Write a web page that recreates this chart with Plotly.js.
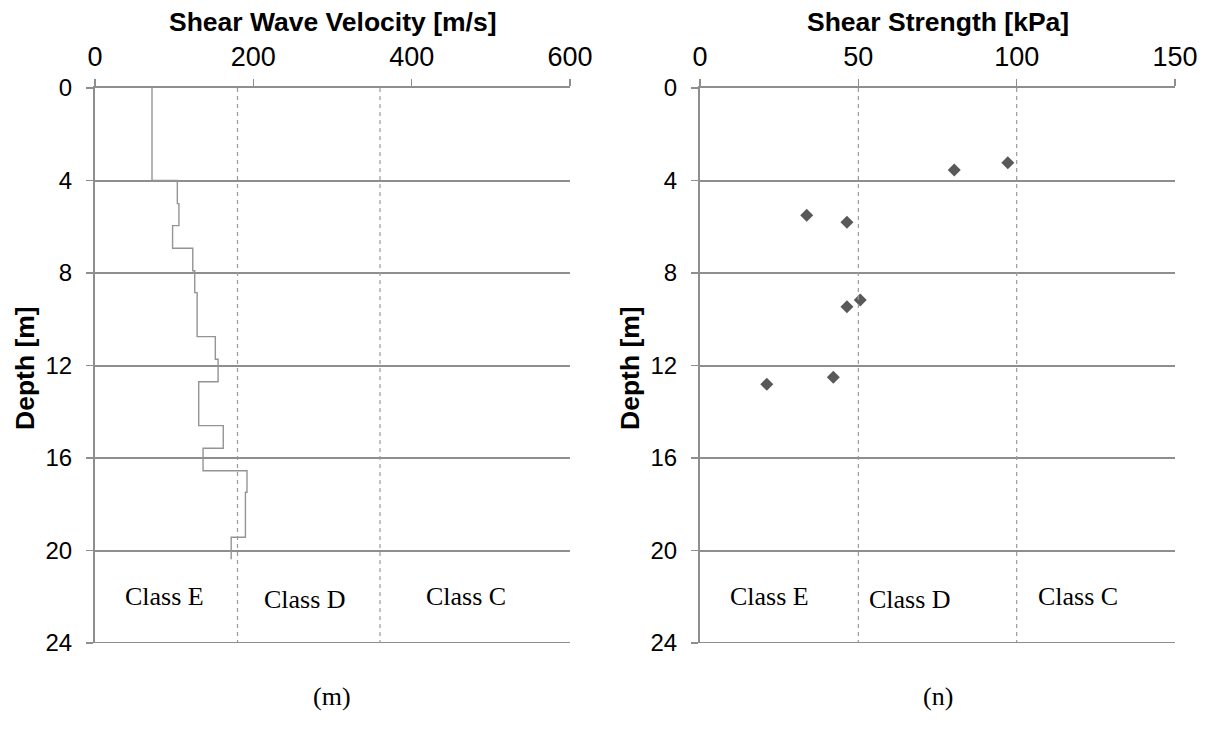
<!DOCTYPE html>
<html>
<head>
<meta charset="utf-8">
<script src="https://cdn.plot.ly/plotly-3.0.1.min.js"></script>
<style>html,body{margin:0;padding:0;background:#fff}#chart{width:1205px;height:742px}</style>
</head>
<body>
<div id="chart"></div>
<script>
// Shear wave velocity profile: layer top/bottom depths [m] and Vs [m/s]
const layerTop    = [0,   4.0,  5.0,  5.95, 6.93, 7.9,  8.85, 10.75, 11.73, 12.7, 14.6, 15.58, 16.55, 17.48, 19.43];
const layerBottom = [4.0, 5.0,  5.95, 6.93, 7.9,  8.85, 10.75, 11.73, 12.7, 14.6, 15.58, 16.55, 17.48, 19.43, 20.38];
const layerVs     = [72,  104,  106,  98,   123.5, 126, 129,  152,   155.5, 131,  162,   136.5, 192,   190,   172];

// Shear strength points
const strength      = [97.2, 80.3, 33.7, 46.4, 50.6, 46.4, 42.1, 21.1];
const strengthDepth = [3.23, 3.55, 5.5,  5.81, 9.17, 9.46, 12.51, 12.81];

// Site class boundaries and labels
const vsBounds = [180, 360];
const suBounds = [50, 100];
const classNames = ["Class E", "Class D", "Class C"];
const vsLabelX = [88.4, 265.5, 468.6];
const vsLabelDepth = [22.0, 22.12, 22.0];
const suLabelX = [22.0, 66.3, 119.4];
const suLabelDepth = [22.0, 22.12, 22.0];
const panelCaptions = ["(m)", "(n)"];
const axisTitles = ["Shear Wave Velocity [m/s]", "Shear Strength [kPa]"];
const depthTitle = "Depth [m]";

const xTicksVs = [0, 200, 400, 600];
const xTicksSu = [0, 50, 100, 150];
const depthTicks = [0, 4, 8, 12, 16, 20, 24];

// build step line from layers
const stepX = [], stepY = [];
for (let i = 0; i < layerVs.length; i++) {
  stepX.push(layerVs[i], layerVs[i]);
  stepY.push(layerTop[i], layerBottom[i]);
}

const grey = '#8e8e8e';
const sans = 'Liberation Sans, Arial, sans-serif';
const serif = 'Liberation Serif, Times New Roman, serif';

const traces = [
  {x: stepX, y: stepY, xaxis: 'x', yaxis: 'y', mode: 'lines', line: {color: '#949494', width: 1.4}, showlegend: false, hoverinfo: 'skip'},
  {x: strength, y: strengthDepth, xaxis: 'x2', yaxis: 'y2', mode: 'markers', marker: {symbol: 'diamond', size: 10, color: '#595959'}, showlegend: false}
];

function xa(range, ticks, domain, anchor) {
  return {domain: domain, range: range, side: 'top', anchor: anchor, tickvals: ticks, ticktext: ticks.map(String),
    showgrid: false, zeroline: false, showline: true, linecolor: grey, linewidth: 2,
    ticks: 'outside', ticklen: 7, tickcolor: grey, tickwidth: 1.5, ticklabelstandoff: 2,
    tickfont: {family: sans, size: 27, color: '#000'}};
}
function ya(domain, anchor) {
  return {domain: domain, range: [24, 0], anchor: anchor, tickvals: depthTicks, ticktext: depthTicks.map(String),
    showgrid: true, gridcolor: grey, gridwidth: 2, zeroline: false, showline: true, linecolor: grey, linewidth: 2,
    ticks: 'outside', ticklen: 7, tickcolor: grey, tickwidth: 1.5, ticklabelstandoff: 9,
    tickfont: {family: sans, size: 24, color: '#000'}};
}

const yDom = [1 - 643/742, 1 - 88/742];
const shapes = [];
vsBounds.forEach(v => shapes.push({type: 'line', xref: 'x', yref: 'y', x0: v, x1: v, y0: 0, y1: 24, line: {color: '#9a9a9a', width: 1.2, dash: '4px,4px'}}));
suBounds.forEach(v => shapes.push({type: 'line', xref: 'x2', yref: 'y2', x0: v, x1: v, y0: 0, y1: 24, line: {color: '#9a9a9a', width: 1.2, dash: '4px,4px'}}));
// bottom gridline at 24
shapes.push({type: 'line', xref: 'x domain', yref: 'y', x0: 0, x1: 1, y0: 24, y1: 24, line: {color: grey, width: 2}});
shapes.push({type: 'line', xref: 'x2 domain', yref: 'y2', x0: 0, x1: 1, y0: 24, y1: 24, line: {color: grey, width: 2}});

const annotations = [];
classNames.forEach((n, i) => {
  annotations.push({xref: 'x', yref: 'y', x: vsLabelX[i], y: vsLabelDepth[i], xanchor: 'center', yanchor: 'middle', text: n, showarrow: false, font: {family: serif, size: 26, color: '#000'}});
  annotations.push({xref: 'x2', yref: 'y2', x: suLabelX[i], y: suLabelDepth[i], xanchor: 'center', yanchor: 'middle', text: n, showarrow: false, font: {family: serif, size: 26, color: '#000'}});
});
const capX = [332/1205, 938/1205];
panelCaptions.forEach((c, i) => annotations.push({xref: 'paper', yref: 'paper', x: capX[i], y: 1 - 696/742, xanchor: 'center', yanchor: 'middle', text: c, showarrow: false, font: {family: serif, size: 26, color: '#000'}}));
const titleX = [332.5/1205, 937.5/1205];
axisTitles.forEach((t, i) => annotations.push({xref: 'paper', yref: 'paper', x: titleX[i], y: 1 - 22/742, xanchor: 'center', yanchor: 'middle', text: '<b>' + t + '</b>', showarrow: false, font: {family: sans, size: 26.5, color: '#000'}}));
const depthTitleX = [25/1205, 630/1205];
depthTitleX.forEach(x => annotations.push({xref: 'paper', yref: 'paper', x: x, y: 1 - 368/742, xanchor: 'center', yanchor: 'middle', textangle: -90, text: '<b>' + depthTitle + '</b>', showarrow: false, font: {family: sans, size: 26.5, color: '#000'}}));

const layout = {
  width: 1205, height: 742, margin: {l: 0, r: 0, t: 0, b: 0},
  paper_bgcolor: '#fff', plot_bgcolor: '#fff', showlegend: false,
  xaxis: xa([0, 600], xTicksVs, [95/1205, 570/1205], 'y'),
  yaxis: ya(yDom, 'x'),
  xaxis2: xa([0, 150], xTicksSu, [700/1205, 1175/1205], 'y2'),
  yaxis2: ya(yDom, 'x2'),
  shapes: shapes, annotations: annotations
};

Plotly.newPlot('chart', traces, layout, {displayModeBar: false, staticPlot: true});
</script>
</body>
</html>
